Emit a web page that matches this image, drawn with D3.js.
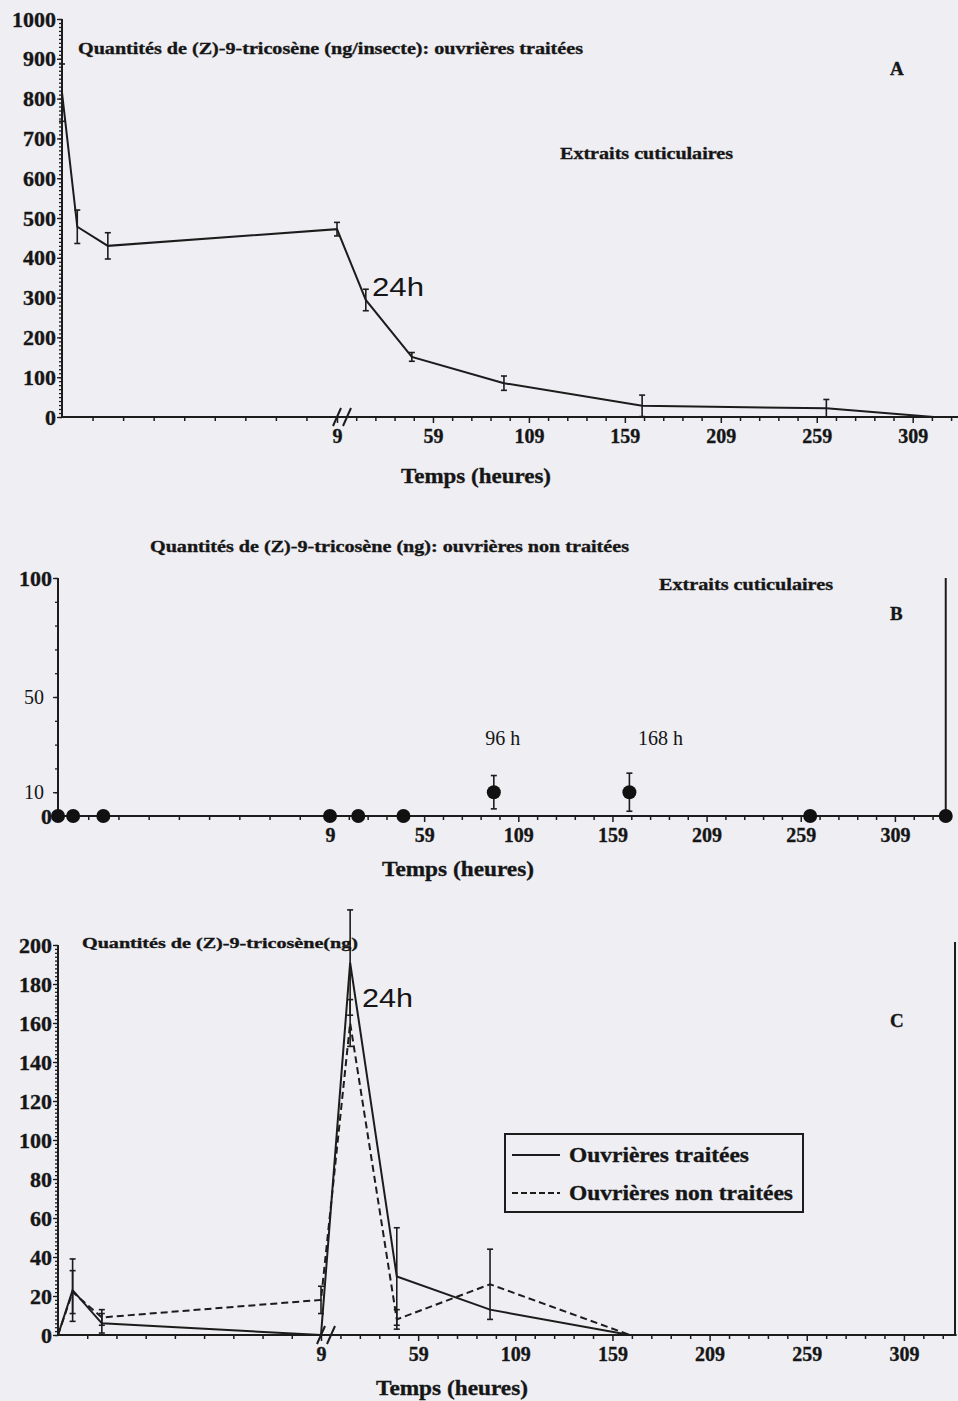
<!DOCTYPE html>
<html><head><meta charset="utf-8">
<script src="https://cdn.jsdelivr.net/npm/d3@7"></script>
<style>
body{margin:0;background:#eeeef3;}
svg{display:block}
text{font-family:"Liberation Serif","Times New Roman",serif;fill:#151515}
.sans{font-family:"Liberation Sans",Arial,sans-serif}
</style></head><body>
<svg id="chart" width="958" height="1401"></svg>
<script>
// ---- data (hours after treatment) ----
const hoursA = [0, 0.5, 1.5, 9, 24, 48, 96, 168, 264, 320];
const treatedA = [815, 478, 430, 472, 294, 151, 85, 28, 22, 0];
const errTreatedA = [72, 42, 33, 17, 27, 11, 18, 27, 22, 0];

const hoursB = [0, 0.5, 1.5, 9, 24, 48, 96, 168, 264, 336];
const untreatedB = [0, 0, 0, 0, 0, 0, 10, 10, 0, 0];
const errUntreatedB = [0, 0, 0, 0, 0, 0, 7, 8, 0, 0];

const hoursC = [0, 0.5, 1.5, 9, 24, 48, 96, 168, 264, 336];
const treatedC = [0, 23, 6, 0, 191, 30, 13, 0, 0, 0];
const errTreatedC = [0, 16, 5, 0, 27, 25, 0, 0, 0, 0];
const untreatedC = [0, 22, 9, 18, 160, 8, 26, 0, 0, 0];
const errUntreatedC = [0, 11, 4, 7, 12, 5, 18, 0, 0, 0];

const xTickLabels = [9, 59, 109, 159, 209, 259, 309];
const yTicksA = [0, 100, 200, 300, 400, 500, 600, 700, 800, 900, 1000];
const yTicksB = [0, 10, 50, 100];
const yTicksC = [0, 20, 40, 60, 80, 100, 120, 140, 160, 180, 200];

const svg = d3.select("#chart");
svg.append("rect").attr("width", 958).attr("height", 1401).attr("fill", "#eeeef3");
const INK = "#1c1c1c";

function makeX(x0, x9, slope) {
  // broken time axis: 0-9 h stretched, then 9-345 h compressed
  return d3.scaleLinear().domain([0, 9, 345]).range([x0, x9, x9 + 336 * slope]);
}

function boldInk(sel) {
  sel.attr("stroke", INK).attr("stroke-width", 0.35);
}

function xAxis(g, x, y0, xEnd, opts) {
  const ax = g.append("g").attr("transform", `translate(0,${y0})`);
  ax.append("line").attr("x1", x(0)).attr("x2", xEnd).attr("stroke", INK).attr("stroke-width", 2);
  const minor = d3.range(1, 9).concat(d3.range(19, 340, 10).filter(d => (d - 9) % 50 !== 0))
    .filter(d => x(d) < xEnd - 2);
  const gm = ax.append("g").call(d3.axisBottom(x).tickValues(minor).tickSize(4).tickFormat(""));
  gm.select(".domain").remove();
  const gM = ax.append("g").call(d3.axisBottom(x).tickValues(xTickLabels).tickSize(6).tickPadding(6).tickFormat(d3.format("d")));
  gM.select(".domain").remove();
  ax.selectAll(".tick line").attr("stroke", INK).attr("stroke-width", 1.5);
  const tt = ax.selectAll(".tick text").attr("font-size", 20).attr("font-weight", "bold")
    .attr("font-family", "Liberation Serif").attr("fill", INK);
  boldInk(tt);
  if (opts.brk) {
    [0, 10].forEach(dx => {
      const bx = x(9) + dx;
      ax.append("line").attr("x1", bx - 4).attr("y1", 9).attr("x2", bx + 4).attr("y2", -9)
        .attr("stroke", INK).attr("stroke-width", 2);
    });
  }
}

function yAxis(g, y, x0, ticks, minorStep, max, sansSet) {
  const ax = g.append("g").attr("transform", `translate(${x0},0)`);
  const gm = ax.append("g").call(d3.axisLeft(y).tickValues(d3.range(0, max + 0.001, minorStep)).tickSize(3).tickFormat(""));
  gm.select(".domain").remove();
  const gM = ax.append("g").call(d3.axisLeft(y).tickValues(ticks).tickSize(5).tickPadding(1).tickFormat(d3.format("d")));
  gM.select(".domain").remove();
  ax.append("line").attr("y1", y(0)).attr("y2", y(max)).attr("stroke", INK).attr("stroke-width", 2);
  ax.selectAll(".tick line").attr("stroke", INK).attr("stroke-width", 1.3);
  gM.selectAll(".tick text").each(function (d) {
    const t = d3.select(this);
    if (sansSet && sansSet.includes(d)) {
      t.attr("font-family", "Liberation Sans").attr("font-weight", "normal").attr("font-size", 20)
        .attr("x", -14);
    } else {
      t.attr("font-family", "Liberation Serif").attr("font-weight", "bold").attr("font-size", 22);
      boldInk(t);
    }
    t.attr("fill", INK);
  });
}

function errorBars(g, x, y, hrs, vals, errs) {
  hrs.forEach((h, i) => {
    if (!errs[i]) return;
    const cx = x(h), lo = y(Math.max(0, vals[i] - errs[i])), hi = y(vals[i] + errs[i]);
    g.append("line").attr("x1", cx).attr("x2", cx).attr("y1", lo).attr("y2", hi).attr("stroke", INK).attr("stroke-width", 1.6);
    [lo, hi].forEach(yy => g.append("line").attr("x1", cx - 3).attr("x2", cx + 3).attr("y1", yy).attr("y2", yy).attr("stroke", INK).attr("stroke-width", 1.6));
  });
}

function label(txt, x, y, size, opts = {}) {
  const t = svg.append("text").attr("x", x).attr("y", y).attr("font-size", size).text(txt);
  if (opts.bold !== false) { t.attr("font-weight", "bold"); boldInk(t); }
  if (opts.anchor) t.attr("text-anchor", opts.anchor);
  if (opts.cls) t.attr("class", opts.cls);
  if (opts.len) t.attr("textLength", opts.len).attr("lengthAdjust", "spacingAndGlyphs");
  return t;
}

// ================= Panel A =================
{
  const g = svg.append("g");
  const x = makeX(62, 337, 1.919);
  const y = d3.scaleLinear().domain([0, 1000]).range([417, 19]);
  g.append("clipPath").attr("id", "clipA").append("rect").attr("x", 0).attr("y", 0).attr("width", 958).attr("height", 430);
  yAxis(g, y, 62, yTicksA, 10, 1000);
  xAxis(g, x, 417, 958, { brk: true });
  const line = d3.line().x((d, i) => x(hoursA[i])).y(d => y(d));
  g.append("path").datum(treatedA).attr("d", line).attr("fill", "none").attr("stroke", INK).attr("stroke-width", 2).attr("clip-path", "url(#clipA)");
  errorBars(g, x, y, hoursA, treatedA, errTreatedA);
  label("Quantités de (Z)-9-tricosène (ng/insecte): ouvrières traitées", 78, 54, 17, { len: 505 });
  label("A", 890, 75, 19);
  label("Extraits cuticulaires", 560, 159, 17, { len: 173 });
  label("24h", 372, 296, 26, { bold: false, cls: "sans", len: 52 });
  label("Temps (heures)", 476, 483, 21, { anchor: "middle", len: 150 });
}

// ================= Panel B =================
{
  const g = svg.append("g");
  const x = makeX(58, 330, 1.883);
  const y = d3.scaleLinear().domain([0, 100]).range([816, 578]);
  yAxis(g, y, 58, yTicksB, 10, 100, [10, 50]);
  xAxis(g, x, 816, 946, { brk: false });
  g.append("line").attr("x1", x(336)).attr("x2", x(336)).attr("y1", y(0)).attr("y2", y(100)).attr("stroke", INK).attr("stroke-width", 2);
  errorBars(g, x, y, hoursB, untreatedB, errUntreatedB);
  g.selectAll("circle.pt").data(untreatedB).join("circle").attr("class", "pt")
    .attr("cx", (d, i) => x(hoursB[i])).attr("cy", d => y(d)).attr("r", 7).attr("fill", "#111");
  label("Quantités de (Z)-9-tricosène (ng): ouvrières non traitées", 150, 552, 16, { len: 479 });
  label("Extraits cuticulaires", 659, 590, 17, { len: 174 });
  label("B", 890, 620, 19);
  label("96 h", x(96) + 9, 745, 20, { bold: false, anchor: "middle" });
  label("168 h", x(168) + 31, 745, 20, { bold: false, anchor: "middle" });
  label("Temps (heures)", 458, 876, 21, { anchor: "middle", len: 152 });
}

// ================= Panel C =================
{
  const g = svg.append("g");
  const x = makeX(58, 321, 1.943);
  const y = d3.scaleLinear().domain([0, 200]).range([1335, 945]);
  yAxis(g, y, 58, yTicksC, 2, 200);
  xAxis(g, x, 1335, 955, { brk: true });
  g.append("line").attr("x1", 955).attr("x2", 955).attr("y1", 942).attr("y2", 1335).attr("stroke", INK).attr("stroke-width", 2);
  const lineT = d3.line().x((d, i) => x(hoursC[i])).y(d => y(d));
  g.append("path").datum(untreatedC).attr("d", lineT).attr("fill", "none").attr("stroke", INK).attr("stroke-width", 2).attr("stroke-dasharray", "7,4");
  g.append("path").datum(treatedC).attr("d", lineT).attr("fill", "none").attr("stroke", INK).attr("stroke-width", 2);
  errorBars(g, x, y, hoursC, treatedC, errTreatedC);
  errorBars(g, x, y, hoursC, untreatedC, errUntreatedC);
  label("Quantités de (Z)-9-tricosène(ng)", 82, 948, 15, { len: 276 });
  label("24h", 362, 1007, 26, { bold: false, cls: "sans", len: 51 });
  label("C", 890, 1027, 19);
  // legend
  const lg = svg.append("g");
  lg.append("rect").attr("x", 505).attr("y", 1134).attr("width", 298).attr("height", 78)
    .attr("fill", "none").attr("stroke", INK).attr("stroke-width", 2);
  lg.append("line").attr("x1", 512).attr("x2", 560).attr("y1", 1155).attr("y2", 1155).attr("stroke", INK).attr("stroke-width", 2);
  lg.append("line").attr("x1", 512).attr("x2", 560).attr("y1", 1193).attr("y2", 1193).attr("stroke", INK).attr("stroke-width", 2).attr("stroke-dasharray", "6,3");
  label("Ouvrières traitées", 569, 1162, 21, { len: 180 });
  label("Ouvrières non traitées", 569, 1200, 21, { len: 224 });
  label("Temps (heures)", 452, 1395, 21, { anchor: "middle", len: 152 });
}
</script>
</body></html>
